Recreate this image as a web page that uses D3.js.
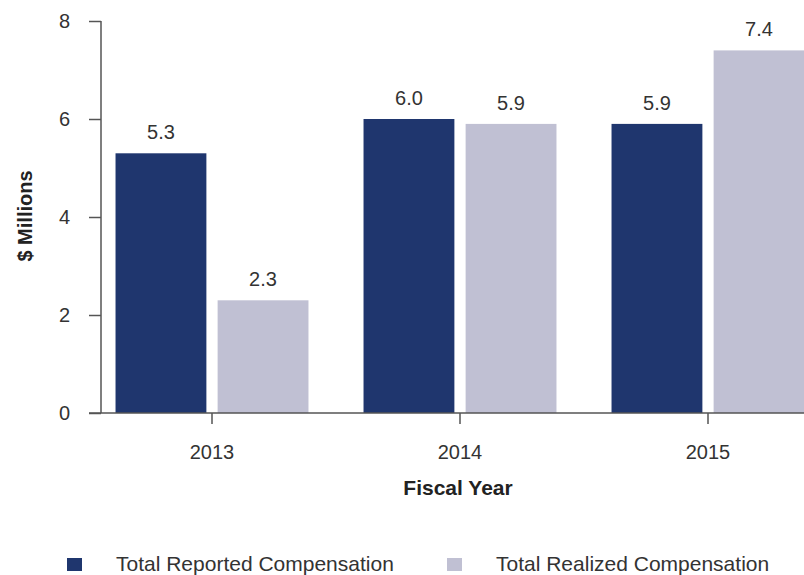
<!DOCTYPE html>
<html>
<head>
<meta charset="utf-8">
<script src="https://cdn.jsdelivr.net/npm/d3@7"></script>
<style>
  body { margin: 0; background: #fff; }
  svg { font-family: "Liberation Sans", Arial, sans-serif; }
</style>
</head>
<body>
<div id="chart"></div>
<script>
const years = ["2013", "2014", "2015"];
const seriesNames = ["Total Reported Compensation", "Total Realized Compensation"];
const reported = [5.3, 6.0, 5.9];
const realized = [2.3, 5.9, 7.4];
const yTicks = [0, 2, 4, 6, 8];
const colors = ["#1f366e", "#c0c0d3"];

const width = 804, height = 575;

const svg = d3.select("#chart").append("svg")
  .attr("width", width)
  .attr("height", height);

// x range runs off the right edge, same as the original
const x = d3.scaleBand().domain(years).range([88, 832]).paddingInner(0.222).paddingOuter(0.111);
const xSub = d3.scaleBand().domain([0, 1]).range([0, x.bandwidth()]).paddingInner(0.11);
const y = d3.scaleLinear().domain([0, 8]).range([413, 21]);

const rows = years.map((yr, i) => ({ year: yr, values: [reported[i], realized[i]] }));

// bars
const groups = svg.selectAll("g.grp").data(rows).enter().append("g")
  .attr("class", "grp")
  .attr("transform", d => `translate(${x(d.year)},0)`);

groups.selectAll("rect").data(d => d.values.map((v, k) => ({ v, k }))).enter().append("rect")
  .attr("x", d => xSub(d.k))
  .attr("y", d => y(d.v))
  .attr("width", xSub.bandwidth())
  .attr("height", d => y(0) - y(d.v))
  .attr("fill", d => colors[d.k]);

// value labels
groups.selectAll("text").data(d => d.values.map((v, k) => ({ v, k }))).enter().append("text")
  .attr("x", d => xSub(d.k) + xSub.bandwidth() / 2)
  .attr("y", d => y(d.v) - 14)
  .attr("text-anchor", "middle")
  .style("font-size", "20px")
  .style("fill", "#333")
  .text(d => d.v.toFixed(1));

// y axis
const yAxis = svg.append("g")
  .attr("transform", "translate(101,0)")
  .call(d3.axisLeft(y).tickValues(yTicks).tickSize(12).tickPadding(19));
yAxis.select(".domain").attr("d", `M0,${y(8)}V${y(0)}`);

// x axis
const xAxis = svg.append("g")
  .attr("transform", `translate(0,${y(0)})`)
  .call(d3.axisBottom(x).tickSize(11).tickPadding(21));
xAxis.select(".domain").attr("d", "M89,0H804");

svg.selectAll(".tick text").style("font-size", "20px").style("fill", "#333").style("font-family", "Liberation Sans, Arial, sans-serif");
svg.selectAll(".domain, .tick line").attr("stroke", "#555").attr("stroke-width", 1.5);

// axis titles
svg.append("text")
  .attr("x", 458).attr("y", 495)
  .attr("text-anchor", "middle")
  .style("font-size", "21px").style("font-weight", "bold").style("fill", "#222")
  .text("Fiscal Year");

svg.append("text")
  .attr("transform", "translate(32,216) rotate(-90)")
  .attr("text-anchor", "middle")
  .style("font-size", "20px").style("font-weight", "bold").style("fill", "#222")
  .text("$ Millions");

// legend
const legendX = [67, 447];
const legend = svg.selectAll("g.leg").data(seriesNames).enter().append("g")
  .attr("class", "leg")
  .attr("transform", (d, i) => `translate(${legendX[i]},558)`);
legend.append("rect").attr("width", 15).attr("height", 13).attr("fill", (d, i) => colors[i]);
legend.append("text")
  .attr("x", 49)
  .attr("y", 13)
  .style("font-size", "21px").style("fill", "#333")
  .text(d => d);
</script>
</body>
</html>
